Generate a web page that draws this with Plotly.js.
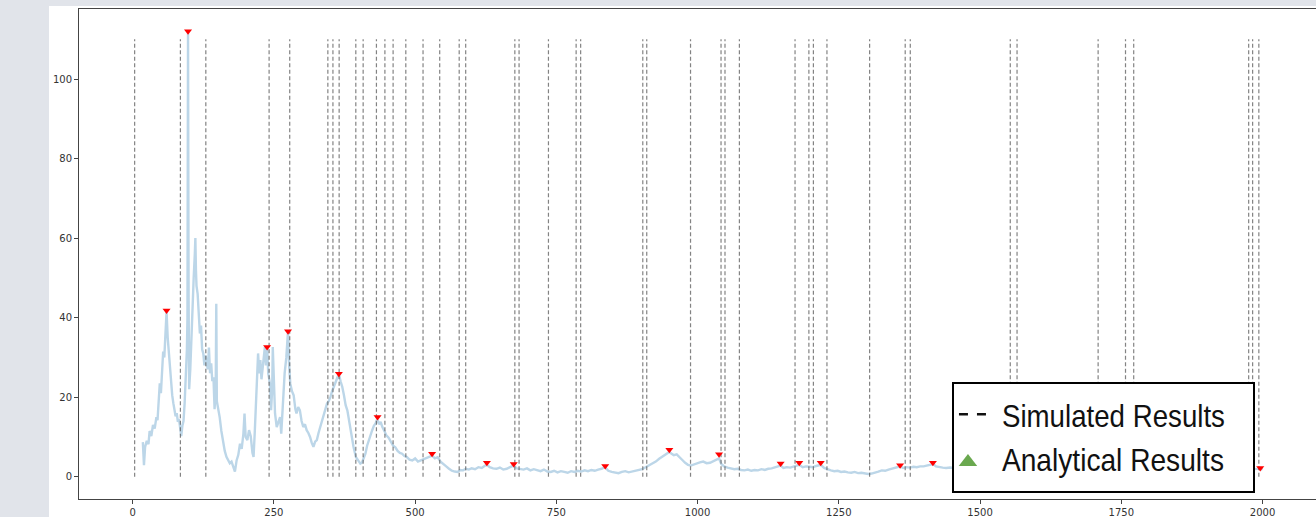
<!DOCTYPE html>
<html>
<head>
<meta charset="utf-8">
<script src="https://cdn.plot.ly/plotly-3.0.1.min.js"></script>
<style>
  html, body { margin: 0; padding: 0; width: 1316px; height: 517px; overflow: hidden; background: #e1e4ea; }
  #wrap { position: absolute; left: 49px; top: 6px; width: 1272px; height: 511px; background: #ffffff; }
  #chart { width: 1272px; height: 511px; }
</style>
</head>
<body>
<div id="wrap"><div id="chart"></div></div>
<script>
// Spectrum (light blue curve)
const specX = [18,20,22,25,28,30,33,36,39,42,44,46,48,50,52,54,56,58,60,62,64,66,68,70,72,74,76,78,80,82,84,86,88,90,92,94,96,97,98,99,100,102,104,106,108,110,111,112,113,115,117,119,121,123,125,127,129,131,133,135,137,139,141,143,145,147,148,149,151,154,157,160,163,166,169,172,175,178,181,184,187,190,193,196,198,200,203,206,209,212,214,216,219,222,224,226,228,231,234,236,238,240,243,245,247,248,250,252,255,258,261,263,266,269,272,275,277,279,282,285,288,290,293,296,299,302,305,308,311,314,317,320,323,326,329,332,335,338,341,344,347,350,353,356,359,362,365,368,371,374,377,380,384,388,391,395,399,403,406,409,412,415,418,421,424,427,430,433,436,439,442,446,449,453,457,461,465,469,473,477,481,485,490,495,500,505,510,515,520,525,530,535,540,545,550,555,560,565,570,575,580,585,590,595,600,606,612,618,624,627,632,638,644,650,656,662,668,674,680,686,692,698,704,710,716,722,728,734,740,746,752,758,764,770,776,782,788,794,800,806,812,818,824,830,836,842,848,854,860,866,872,878,884,890,896,902,908,914,920,926,932,938,944,950,954,958,963,968,973,978,983,988,993,998,1004,1010,1016,1022,1028,1034,1038,1042,1047,1053,1059,1065,1071,1077,1083,1089,1095,1101,1107,1113,1119,1125,1131,1137,1143,1147,1152,1158,1164,1170,1176,1180,1186,1192,1198,1204,1210,1214,1218,1224,1230,1236,1242,1248,1254,1260,1266,1272,1278,1284,1290,1296,1302,1308,1314,1320,1326,1332,1338,1344,1350,1356,1359,1364,1370,1376,1382,1388,1394,1400,1406,1412,1417,1422,1428,1434,1440,1447,1460,1480,1500,1520,1540,1560,1580,1600,1620,1640,1660,1680,1700,1720,1740,1760,1780,1800,1820,1840,1860,1880,1900,1920,1940,1960,1980,1990,1996,2000];
const specY = [8.7,2.9,7.5,9.0,8.2,11.5,10.2,13.0,12.1,15.0,14.2,19.5,23.5,21.0,27.0,31.5,30.0,37.0,41.5,35.0,31.0,27.5,24.0,20.5,18.5,17.0,15.2,16.0,13.8,14.5,11.5,10.2,12.8,14.0,18.5,24.0,32.0,40.0,112.0,45.0,22.0,27.0,36.0,44.0,50.0,56.0,60.0,52.0,48.0,46.0,41.0,36.0,38.0,32.0,31.0,28.0,30.5,29.0,27.0,32.5,26.0,28.5,24.0,25.0,17.0,22.0,43.5,19.0,17.5,15.0,11.5,8.3,6.5,5.0,4.2,3.4,3.8,2.5,1.3,4.1,5.5,8.3,7.0,10.8,15.9,10.0,9.2,11.7,10.2,6.0,5.0,10.8,19.2,31.0,26.0,29.3,24.5,28.4,32.6,28.0,32.6,26.0,23.4,16.7,22.0,32.6,21.0,15.9,12.5,14.0,15.0,10.8,19.2,26.0,30.0,36.6,28.0,23.4,21.5,20.5,17.0,15.9,17.5,16.7,14.0,12.5,13.2,11.7,11.0,10.0,8.5,7.5,8.8,9.2,11.0,12.5,14.2,15.9,17.2,18.4,19.0,20.0,21.5,22.6,24.0,25.0,25.9,24.0,22.6,20.5,18.0,16.7,13.0,9.5,7.5,5.0,4.1,3.3,3.6,4.8,5.8,7.8,9.2,10.8,11.7,12.8,13.4,14.5,13.2,13.8,12.5,11.4,10.4,9.8,8.7,7.8,7.4,6.5,6.0,5.8,5.2,5.0,4.3,4.1,4.6,3.8,4.1,4.4,4.6,5.0,5.3,4.6,4.9,3.8,3.3,2.6,2.0,1.5,1.3,1.2,1.7,1.6,2.0,1.8,2.1,1.9,2.4,2.2,2.8,3.0,2.4,2.1,2.0,2.3,1.8,2.0,2.4,2.8,2.1,1.9,1.8,2.1,1.6,1.9,1.6,1.4,1.8,1.3,1.2,1.5,1.1,1.4,1.2,1.0,1.4,1.2,1.5,1.3,1.6,1.4,1.7,1.5,1.8,2.0,2.4,1.5,1.2,1.0,0.9,1.2,1.4,1.1,1.3,1.5,1.6,1.9,2.4,2.8,3.2,3.8,4.5,5.0,5.6,6.2,5.8,5.4,5.6,5.0,4.2,3.5,3.0,2.8,3.1,3.3,3.6,3.8,3.4,3.5,3.9,4.2,4.6,3.2,2.6,2.3,2.1,1.9,2.0,1.7,1.6,1.8,1.5,1.7,1.6,1.9,1.7,2.0,2.1,2.3,2.5,2.8,2.2,2.4,2.3,2.6,2.7,3.0,2.4,2.6,2.5,2.4,2.7,2.9,3.0,2.2,1.8,1.6,1.4,1.5,1.2,1.3,1.1,1.0,1.2,0.9,1.0,0.8,0.7,0.8,1.0,1.3,1.6,1.5,1.8,2.0,2.2,2.4,2.6,2.2,2.4,2.3,2.5,2.4,2.6,2.6,2.8,3.0,3.2,2.6,2.4,2.3,2.2,2.3,2.1,2.3,2.0,2.2,1.9,2.1,1.8,2.0,1.7,1.9,1.6,1.8,1.5,1.7,1.6,1.8,1.5,1.7,1.6,1.8,1.5,1.7,1.6,1.8,1.7,1.9,1.8,2.0,2.1,1.8];

// Detected peaks (red down-triangles)
const peakX = [60,98,238,275,365,433.5,530,627,674.5,836.5,950,1038,1147,1180,1218,1358.5,1416.5,1996];
const peakY = [41.8,112,32.6,36.6,25.9,15.0,5.8,3.5,3.2,2.7,6.8,5.65,3.3,3.5,3.5,2.9,3.5,2.2];

// Simulated results (vertical dashed lines)
const simX = [3.5,84.5,129.5,241.5,278,345.5,354.5,365.5,395,408,431.5,446.5,461,483.5,514,543.5,578,589.5,676.5,684,736,785,793,903,910,987.5,1041.5,1048.5,1074,1172.5,1197,1205,1229,1304.5,1367.5,1376.5,1553.5,1565.5,1709,1757.5,1772,1975.5,1982.5,1993.5];
const simTop = 110;

const xTicks = [0,250,500,750,1000,1250,1500,1750,2000];
const yTicks = [0,20,40,60,80,100];
const legendNames = ['Simulated Results', 'Analytical Results'];

const vx = [], vy = [];
simX.forEach(v => { vx.push(v, v, null); vy.push(0, simTop, null); });

const traces = [
  { x: specX, y: specY, type: 'scatter', mode: 'lines',
    line: { color: '#bcd6e8', width: 2.4 }, showlegend: false, hoverinfo: 'skip' },
  { x: vx, y: vy, type: 'scatter', mode: 'lines',
    line: { color: 'rgba(100,100,100,0.8)', width: 1.2, dash: '4px,2.5px' },
    showlegend: false, hoverinfo: 'skip' },
  { x: peakX, y: peakY, type: 'scatter', mode: 'markers',
    marker: { symbol: 'triangle-down', color: '#ff0000', size: 7 }, showlegend: false },
  { x: [null], y: [null], type: 'scatter', mode: 'lines', name: legendNames[0], legendgroup: 'a',
    line: { color: '#111111', width: 2.5, dash: '9px,9px' } },
  { x: [null], y: [null], type: 'scatter', mode: 'markers', name: legendNames[1], legendgroup: 'b',
    marker: { symbol: 'triangle-up', color: '#6aa84f', size: 16 } }
];

const tickFont = { family: 'DejaVu Sans, sans-serif', size: 10, color: '#333333' };

const layout = {
  width: 1272, height: 511,
  margin: { l: 30, r: 2, t: 3, b: 18 },
  paper_bgcolor: '#ffffff', plot_bgcolor: '#ffffff',
  showlegend: true,
  xaxis: {
    range: [-95, 2100], tickvals: xTicks, ticktext: xTicks.map(String),
    showgrid: false, zeroline: false, showline: true, mirror: true,
    linecolor: '#444444', linewidth: 1, ticks: 'outside', ticklen: 4, tickcolor: '#444444',
    tickfont: tickFont
  },
  yaxis: {
    range: [-5.6, 117.6], tickvals: yTicks, ticktext: yTicks.map(String),
    showgrid: false, zeroline: false, showline: true, mirror: true,
    linecolor: '#444444', linewidth: 1, ticks: 'outside', ticklen: 4, tickcolor: '#444444',
    tickfont: tickFont
  },
  legend: {
    x: 0.704, y: 0.2327, xanchor: 'left', yanchor: 'top',
    bgcolor: '#ffffff', bordercolor: '#000000', borderwidth: 2,
    font: { family: 'Liberation Sans, Arial, sans-serif', size: 32, color: '#111111' },
    tracegroupgap: 4, traceorder: 'normal'
  }
};

const gd = document.getElementById('chart');
Plotly.newPlot(gd, traces, layout, { displayModeBar: false, staticPlot: true }).then(() => {
  // condense legend text to mimic the narrow typeface of the original
  const targetW = [223, 222];
  gd.querySelectorAll('.legend .legendtext').forEach((t, i) => {
    t.setAttribute('textLength', targetW[i] || 222);
    t.setAttribute('lengthAdjust', 'spacingAndGlyphs');
    const x0 = parseFloat(t.getAttribute('x') || '40');
    t.setAttribute('x', x0 + 8);
  });
  gd.querySelectorAll('.legend .legendpoints path').forEach(p => {
    p.setAttribute('transform', 'translate(14,3)');
  });
  const bg = gd.querySelector('.legend .bg');
  if (bg) {
    const y0 = parseFloat(bg.getAttribute('y') || '1');
    bg.setAttribute('y', y0 - 3);
    bg.setAttribute('width', 301);
    bg.setAttribute('height', 109);
  }
});
</script>
</body>
</html>
